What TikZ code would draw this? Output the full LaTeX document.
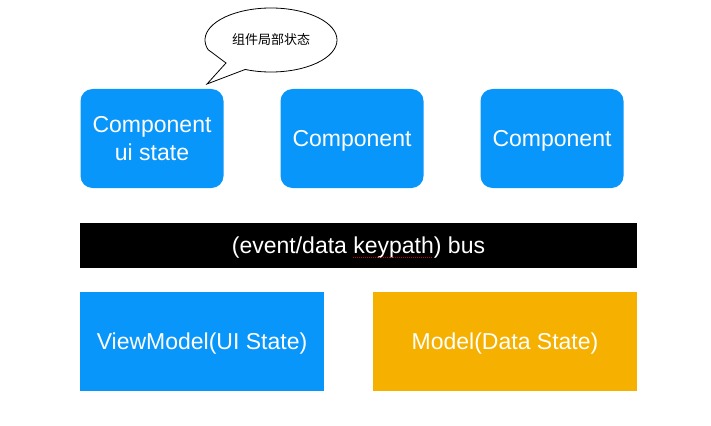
\documentclass[tikz,border=0pt]{standalone}
\usepackage{fontspec}
\setmainfont{Liberation Sans}
\newfontfamily\cjk{Noto Sans CJK SC}
\usepackage{xcolor}
\usepackage{tikz}
\usetikzlibrary{positioning}
\definecolor{compblue}{RGB}{9,150,250}
\definecolor{modelorange}{RGB}{246,176,0}

\begin{document}
\begin{tikzpicture}[x=1pt,y=-1pt,
  comp node/.style={rectangle,rounded corners=12pt,fill=compblue,text=white,
  font=\fontsize{23}{28}\selectfont,align=center,minimum width=143pt,minimum height=99pt},
  state node/.style={rectangle,text=white,font=\fontsize{23}{28}\selectfont,
  text depth=0pt,minimum height=99pt}]

  \useasboundingbox (0,0) rectangle (711,425);

  \node[comp node] (C1) at (152,138.5) {Component\\ui state};
  \node[comp node,text depth=0pt] (C2) at (352,138.5) {Component};
  \node[comp node,text depth=0pt] (C3) at (552,138.5) {Component};

  \node[state node,fill=black,minimum width=557pt,minimum height=45pt] (Bus) at (358.5,245.5)
    {(event/data keypath) bus};
  \draw[red!80!black,densely dotted,line width=1pt] (353,257.5) -- (433,257.5);

  \node[state node,fill=compblue,minimum width=244pt] (VM) at (202,341.5) {ViewModel(UI State)};
  \node[state node,fill=modelorange,minimum width=264pt] (M) at (505,341.5) {Model(Data State)};

  % callout above the first component
  \draw[fill=white,line width=0.8pt] ([shift={(113:66 and 32)}]271,40)
    arc[start angle=113,end angle=-197.5,x radius=66,y radius=32]
    -- (226,63) -- (207,84) -- cycle;
  \node[font=\cjk\fontsize{13}{13}\selectfont] (Note) at (271,40) {组件局部状态};

\end{tikzpicture}
\end{document}
